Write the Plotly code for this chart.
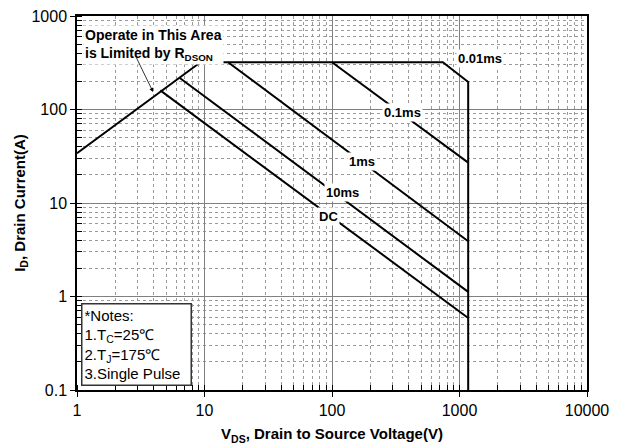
import math
import plotly.graph_objects as go

# Safe Operating Area curves (V in volts, I in amps)
rdson_v = [1, 9.3]
rdson_i = [34, 320]
limit_v = [9.3, 740, 1170, 1170]
limit_i = [320, 320, 197, 0.1]
ms01_v = [100, 1170]
ms01_i = [320, 27]
ms1_v = [15.3, 1170]
ms1_i = [320, 3.9]
ms10_v = [6.4, 1170]
ms10_i = [217, 1.12]
dc_v = [4.5, 1170]
dc_i = [160, 0.59]

label_text = ["0.01ms", "0.1ms", "1ms", "10ms", "DC"]
label_v = [1460, 360, 172, 120, 94]
label_i = [355, 94, 27.5, 13.1, 7.1]

x_ticks = [1, 10, 100, 1000, 10000]
y_ticks = [0.1, 1, 10, 100, 1000]

FONT = "Liberation Sans, Arial, sans-serif"

fig = go.Figure()
for v, i in [(rdson_v, rdson_i), (limit_v, limit_i), (ms01_v, ms01_i),
             (ms1_v, ms1_i), (ms10_v, ms10_i), (dc_v, dc_i)]:
    fig.add_trace(go.Scatter(x=v, y=i, mode="lines",
                             line=dict(color="black", width=2),
                             showlegend=False, hoverinfo="skip"))

for t, v, i in zip(label_text, label_v, label_i):
    fig.add_annotation(x=math.log10(v), y=math.log10(i), xref="x", yref="y",
                       text="<b>%s</b>" % t,
                       showarrow=False, bgcolor="white", borderpad=1,
                       font=dict(family=FONT, size=13, color="black"))

# RDSON annotation text
fig.add_annotation(x=0.012, y=0.975, xref="paper", yref="paper",
                   xanchor="left", yanchor="top", align="left",
                   text="<b>Operate in This Area<br>is Limited by R<sub>DSON</sub></b>",
                   showarrow=False, bgcolor="white",
                   font=dict(family=FONT, size=14, color="black"))
# arrow
fig.add_annotation(x=math.log10(3.95), y=math.log10(154), xref="x", yref="y", text="",
                   showarrow=True, ax=-18, ay=-37, arrowhead=2,
                   arrowsize=1, arrowwidth=0.8, arrowcolor="black")

# Notes box
fig.add_annotation(x=0.008, y=0.011, xref="paper", yref="paper",
                   xanchor="left", yanchor="bottom", align="left",
                   text="*Notes:<br>1.T<sub>C</sub>=25\u2103<br>2.T<sub>J</sub>=175\u2103<br>3.Single Pulse",
                   showarrow=False, bgcolor="white", bordercolor="#333",
                   borderwidth=1.5, borderpad=2, width=104,
                   font=dict(family=FONT, size=15, color="black"))

axis_common = dict(
    type="log", showline=True, linecolor="black", linewidth=1.5, mirror=True,
    showgrid=True, gridcolor="#808080", gridwidth=1,
    ticks="outside", ticklen=5, tickcolor="black",
    tickfont=dict(family=FONT, size=16, color="black"),
    minor=dict(dtick="D1", ticks="inside", ticklen=5, tickcolor="black",
               showgrid=True, gridcolor="#9a9a9a", griddash="dot", gridwidth=1),
    zeroline=False, automargin=False,
)

fig.update_xaxes(**axis_common, range=[0, 4], tickvals=x_ticks,
                 ticktext=[str(v) for v in x_ticks],
                 title=dict(text="<b>V<sub>DS</sub>, Drain to Source Voltage(V)</b>",
                            font=dict(family=FONT, size=15, color="black"),
                            standoff=11))
fig.update_yaxes(**axis_common, range=[-1, 3], tickvals=y_ticks,
                 ticktext=["0.1", "1", "10", "100", "1000"],
                 title=dict(text="<b>I<sub>D</sub>, Drain Current(A)</b>",
                            font=dict(family=FONT, size=15, color="black"),
                            standoff=2))

fig.update_layout(width=621, height=447, margin=dict(l=77, r=34, t=16, b=57),
                  plot_bgcolor="white", paper_bgcolor="white")

fig.write_html("out.html", config={"displayModeBar": False},
               post_script="document.body.style.margin='0';document.body.style.padding='0';")
